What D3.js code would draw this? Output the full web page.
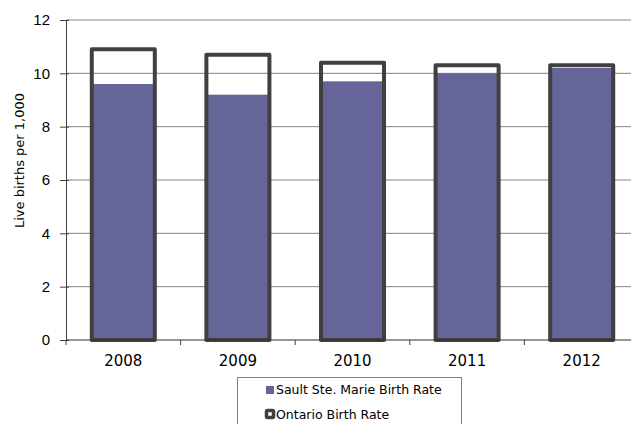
<!DOCTYPE html>
<html>
<head>
<meta charset="utf-8">
<script src="https://cdn.jsdelivr.net/npm/d3@7"></script>
<style>
  html, body { margin: 0; padding: 0; background: #fff; }
  svg { display: block; font-family: "DejaVu Sans", sans-serif; }
</style>
</head>
<body>
<svg id="chart" width="631" height="424"></svg>
<script>
// Annual birth rates (live births per 1,000 population)
const years = ["2008", "2009", "2010", "2011", "2012"];
const saultRate = [9.6, 9.2, 9.7, 10.0, 10.2];
const ontarioRate = [10.9, 10.7, 10.4, 10.3, 10.3];
const yTicks = [0, 2, 4, 6, 8, 10, 12];
const seriesNames = ["Sault Ste. Marie Birth Rate", "Ontario Birth Rate"];

const svg = d3.select("#chart");
const plotLeft = 66, plotTop = 20, plotBottom = 340;
const band = 114.6;
const plotRight = plotLeft + band * years.length;

const x = d3.scaleBand().domain(years).range([plotLeft, plotRight]).paddingInner(0.45).paddingOuter(0.225);
const y = d3.scaleLinear().domain([0, 12]).range([plotBottom, plotTop]);

// horizontal gridlines
svg.append("g").selectAll("line").data(yTicks.filter(d => d > 0)).join("line")
  .attr("x1", plotLeft).attr("x2", plotRight)
  .attr("y1", d => y(d)).attr("y2", d => y(d))
  .attr("stroke", "#848484").attr("stroke-width", 1);

// Sault Ste. Marie bars (filled)
svg.append("g").selectAll("rect").data(years).join("rect")
  .attr("x", d => x(d))
  .attr("width", x.bandwidth())
  .attr("y", (d, i) => y(saultRate[i]))
  .attr("height", (d, i) => plotBottom - y(saultRate[i]))
  .attr("fill", "#656599");

// Ontario bars (outline only)
svg.append("g").selectAll("rect").data(years).join("rect")
  .attr("x", d => x(d))
  .attr("width", x.bandwidth())
  .attr("y", (d, i) => y(ontarioRate[i]))
  .attr("height", (d, i) => plotBottom - y(ontarioRate[i]))
  .attr("fill", "none")
  .attr("stroke", "#404040")
  .attr("stroke-width", 4)
  .attr("stroke-linejoin", "round");

// y axis, tick marks crossing the axis line
const yAxis = d3.axisLeft(y).tickValues(yTicks).tickSize(6).tickSizeOuter(0);
const gy = svg.append("g").attr("transform", `translate(${plotLeft},0)`).call(yAxis);
gy.select(".domain").attr("stroke", "#404040");
gy.selectAll(".tick line").attr("stroke", "#404040").attr("x1", 3).attr("x2", -6);
gy.selectAll("text").attr("x", -16).attr("font-size", 15).attr("fill", "#000");

// x axis with ticks on category boundaries
const gx = svg.append("g").attr("transform", `translate(0,${plotBottom})`);
gx.append("line").attr("x1", plotLeft).attr("x2", plotRight).attr("stroke", "#303030");
const bounds = d3.range(years.length + 1).map(i => plotLeft + i * band);
gx.selectAll("line.b").data(bounds).join("line").attr("class", "b")
  .attr("x1", d => d).attr("x2", d => d).attr("y1", 0).attr("y2", 5)
  .attr("stroke", "#404040");
gx.selectAll("text").data(years).join("text")
  .attr("x", d => x(d) + x.bandwidth() / 2)
  .attr("y", 26)
  .attr("text-anchor", "middle")
  .attr("font-size", 15)
  .text(d => d);

// y axis title
svg.append("text")
  .attr("transform", "translate(24,160.5) rotate(-90)")
  .attr("text-anchor", "middle")
  .attr("font-size", 13)
  .text("Live births per 1,000");

// legend
const lg = svg.append("g");
lg.append("rect").attr("x", 237.5).attr("y", 377.5).attr("width", 224).attr("height", 60)
  .attr("fill", "#fff").attr("stroke", "#808080");
lg.append("rect").attr("x", 266).attr("y", 386).attr("width", 8).attr("height", 8).attr("fill", "#656599");
lg.append("rect").attr("x", 266.5).attr("y", 410.5).attr("width", 7).attr("height", 7)
  .attr("fill", "#fff").attr("stroke", "#404040").attr("stroke-width", 3.5).attr("rx", 1);
lg.selectAll("text.l").data(seriesNames).join("text").attr("class", "l")
  .attr("x", 276)
  .attr("y", (d, i) => 394 + i * 25)
  .attr("font-size", 12.5)
  .text(d => d);
</script>
</body>
</html>
